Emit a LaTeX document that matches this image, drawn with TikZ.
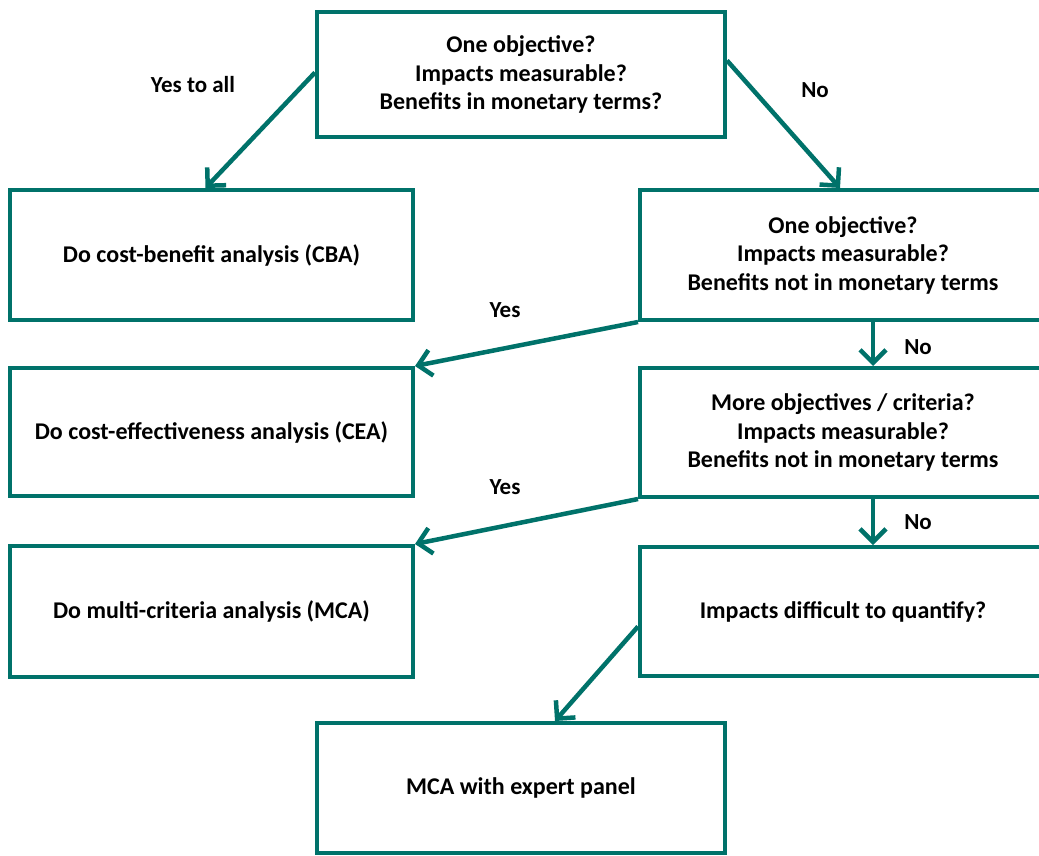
\documentclass[tikz,border=0pt]{standalone}
\usepackage{fontspec}
\setmainfont{Carlito}
\usetikzlibrary{arrows.meta,calc}
\definecolor{teal1}{RGB}{0,114,106}
\begin{document}
\begin{tikzpicture}[x=1pt,y=-1pt,
  box/.style={draw=teal1, line width=4pt, fill=white, align=center,
    font=\fontsize{24}{28.5}\selectfont\bfseries, inner sep=0pt},
  lbl/.style={font=\fontsize{23}{26}\selectfont\bfseries, inner sep=0pt},
  conn/.style={draw=teal1, line width=4.5pt,
    -{Straight Barb[length=13pt,width=26pt,line width=4.5pt]}}]
\useasboundingbox (0,0) rectangle (1039,855);
\clip (0,0) rectangle (1039,855);
\node[box, minimum width=408pt, minimum height=125pt] (top) at (521,74.5)
  {One objective?\\Impacts measurable?\\Benefits in monetary terms?};
\node[box, minimum width=403pt, minimum height=130pt] (cba) at (211.5,255)
  {Do cost-benefit analysis (CBA)};
\node[box, minimum width=406pt, minimum height=130pt] (r1) at (843,255)
  {One objective?\\Impacts measurable?\\Benefits not in monetary terms};
\node[box, minimum width=403pt, minimum height=128pt] (cea) at (211.5,432)
  {Do cost-effectiveness analysis (CEA)};
\node[box, minimum width=406pt, minimum height=129pt] (r2) at (843,432.5)
  {More objectives / criteria?\\Impacts measurable?\\Benefits not in monetary terms};
\node[box, minimum width=403pt, minimum height=131pt] (mca) at (211.5,611.5)
  {Do multi-criteria analysis (MCA)};
\node[box, minimum width=406pt, minimum height=129pt] (r3) at (843,611.5)
  {Impacts difficult to quantify?};
\node[box, minimum width=408pt, minimum height=130pt] (exp) at (521,788)
  {MCA with expert panel};

\draw[conn] ([yshift=2pt]top.west) -- ([xshift=-6pt]cba.north);
\draw[conn] ([yshift=14pt]top.east) -- ([xshift=-3pt]r1.north);
\draw[conn] (r1.south west) -- (cea.north east);
\draw[conn] ([xshift=30pt]r1.south) -- ([xshift=30pt]r2.north);
\draw[conn] (r2.south west) -- (mca.north east);
\draw[conn] ([xshift=30pt]r2.south) -- ([xshift=30pt]r3.north);
\draw[conn] ([yshift=-15pt]r3.west) -- ([xshift=34pt]exp.north);

\node[lbl] (l1) at (193,85) {Yes to all};
\node[lbl] (l2) at (815,90) {No};
\node[lbl] (l3) at (505,310) {Yes};
\node[lbl] (l4) at (918,347) {No};
\node[lbl] (l5) at (505,487) {Yes};
\node[lbl] (l6) at (918,522) {No};
\end{tikzpicture}
\end{document}
